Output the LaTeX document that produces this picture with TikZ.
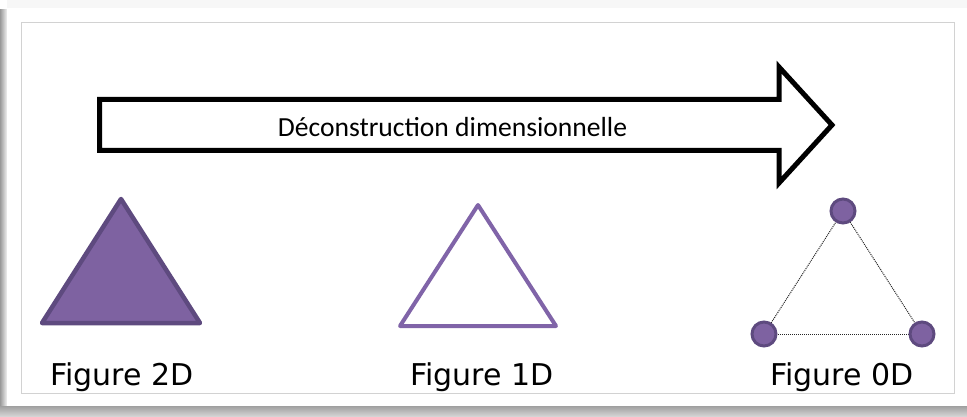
\documentclass[tikz,border=0pt]{standalone}
\usepackage{fontspec}
\setmainfont{DejaVu Sans}
\newfontfamily\calib{Carlito}
\begin{document}
\begin{tikzpicture}[x=1pt,y=-1pt,
  lbl/.style={font=\fontsize{30}{36}\selectfont, text=black, inner sep=0pt, anchor=base},
  vdot/.style={circle, minimum size=24pt, inner sep=0pt, fill=pfill, draw=pdark, line width=3pt},
  dotline/.style={dash pattern=on 1pt off 1pt, line width=1pt, black!85}]
\definecolor{pfill}{HTML}{7E62A1}
\definecolor{pdark}{HTML}{5E4A7F}
\definecolor{plight}{HTML}{8064A8}
\useasboundingbox (0,0) rectangle (967,417);
% card and shadow
\fill[white] (0,0) rectangle (967,417);
\shade[left color=gray!80, right color=white] (0,10) rectangle (8,408);
\shade[top color=gray!75, bottom color=gray!30] (0,406) rectangle (967,417);
\fill[white] (7,8) rectangle (967,406);
\fill[gray!6] (7,0) rectangle (967,8);
\draw[gray!35, line width=0.8pt] (21,22) rectangle (954,393);
% arrow
\draw[line width=5pt, line join=miter, fill=white]
  (99.5,99.5) -- (779,99.5) -- (779,67) -- (832,125) -- (779,183) -- (779,150.5) -- (99.5,150.5) -- cycle;
\node[font=\calib\fontsize{27.6}{32}\selectfont, inner sep=0pt] (title) at (452.5,127) {Déconstruction dimensionnelle};
% 2D
\draw[pdark, fill=pfill, line width=4.5pt, line join=round] (121,199) -- (200,323) -- (42,323) -- cycle;
\node[lbl] (f2) at (122,385) {Figure 2D};
% 1D
\draw[plight, line width=4pt, line join=round] (478,205) -- (556,326) -- (400,326) -- cycle;
\node[lbl] (f1) at (482,385) {Figure 1D};
% 0D
\coordinate (pa) at (843,211);
\coordinate (pb) at (764,334);
\coordinate (pc) at (922,334);
\draw[dotline] (pa) -- (pb);
\draw[dotline] (pb) -- (pc);
\draw[dotline] (pc) -- (pa);
\node[vdot] (a) at (pa) {};
\node[vdot] (b) at (pb) {};
\node[vdot] (c) at (pc) {};
\node[lbl] (f0) at (842,385) {Figure 0D};
\end{tikzpicture}
\end{document}
